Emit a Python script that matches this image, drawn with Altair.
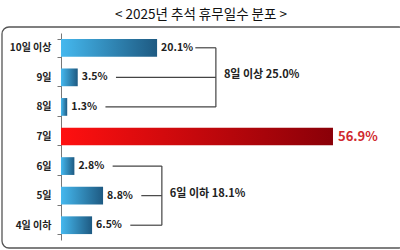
import altair as alt
import pandas as pd

categories = ["10일 이상", "9일", "8일", "7일", "6일", "5일", "4일 이하"]
values = [20.1, 3.5, 1.3, 56.9, 2.8, 8.8, 6.5]
value_labels = ["20.1%", "3.5%", "1.3%", "56.9%", "2.8%", "8.8%", "6.5%"]
highlight = [False, False, False, True, False, False, False]

group_names = ["8일 이상 25.0%", "6일 이하 18.1%"]
group_members = [["10일 이상", "9일", "8일"], ["6일", "5일", "4일 이하"]]

title_text = "< 2025년 추석 휴무일수 분포 >"

FONT = "Noto Sans CJK KR"
LABEL_GAP = 8.0      # data units from bar end to start of connector line
BRACKET_GAP = 12.3   # data units from largest bar in group to bracket

df = pd.DataFrame({"category": categories, "value": values,
                   "label": value_labels, "hl": highlight})
df["line_start"] = df["value"] + LABEL_GAP

grp_rows, conn_rows = [], []
for name, members in zip(group_names, group_members):
    mx = max(df.set_index("category").loc[m, "value"] for m in members)
    bx = mx + BRACKET_GAP
    grp_rows.append({"name": name, "top": members[0], "bottom": members[-1],
                     "mid": members[len(members) // 2], "bx": bx})
    for m in members:
        conn_rows.append({"category": m,
                          "start": df.set_index("category").loc[m, "line_start"],
                          "bx": bx})
grp = pd.DataFrame(grp_rows)
conn = pd.DataFrame(conn_rows)

xscale = alt.Scale(domain=[0, 70.5], nice=False, zero=True)
yscale = alt.Scale(domain=categories, paddingInner=0.4, paddingOuter=0.2)
yaxis = alt.Axis(title=None, tickBand="extent", tickSize=4,
                 tickColor="#777", domainColor="#777",
                 labelFont=FONT, labelFontWeight="bold",
                 labelFontSize=10, labelColor="#222", labelPadding=6)

blue = alt.Gradient(gradient="linear", x1=0, x2=1, y1=0, y2=0,
                    stops=[alt.GradientStop(color="#45b8ee", offset=0),
                           alt.GradientStop(color="#1e5a82", offset=1)])
red = alt.Gradient(gradient="linear", x1=0, x2=1, y1=0, y2=0,
                   stops=[alt.GradientStop(color="#ff1010", offset=0),
                          alt.GradientStop(color="#8a0008", offset=1)])


def Y(field):
    return alt.Y(field + ":N", scale=yscale, sort=categories, axis=yaxis)


def X(field):
    return alt.X(field + ":Q", scale=xscale, axis=None)


base = alt.Chart(df)

frame = alt.Chart(pd.DataFrame({"a": [0]})).mark_rect(
    fill=None, stroke="#555", strokeWidth=1.3, cornerRadius=7
).encode(x=alt.value(-59), x2=alt.value(345), y=alt.value(-6), y2=alt.value(215))

title = alt.Chart(pd.DataFrame({"a": [0]})).mark_text(
    text=title_text, font=FONT, fontSize=13.5, color="#111", align="center",
    baseline="middle"
).encode(x=alt.value(140), y=alt.value(-18))

bars_blue = base.transform_filter("!datum.hl").mark_bar(color=blue).encode(
    x=X("value"), y=Y("category"))
bars_red = base.transform_filter("datum.hl").mark_bar(color=red).encode(
    x=X("value"), y=Y("category"))

labels_blue = base.transform_filter("!datum.hl").mark_text(
    align="left", baseline="middle", dx=4, font=FONT, fontWeight="bold",
    fontSize=10.5, color="#222").encode(
    x=X("value"), y=Y("category"), text="label:N")
labels_red = base.transform_filter("datum.hl").mark_text(
    align="left", baseline="middle", dx=5, font=FONT, fontWeight="bold",
    fontSize=13, color="#d0282e").encode(
    x=X("value"), y=Y("category"), text="label:N")

connectors = alt.Chart(conn).mark_rule(color="#444", strokeWidth=1.2).encode(
    x=X("start"), x2="bx:Q", y=Y("category"))

brackets = alt.Chart(grp).mark_rule(color="#444", strokeWidth=1.2).encode(
    x=X("bx"), y=Y("top"), y2="bottom:N")

group_text = alt.Chart(grp).mark_text(
    align="left", baseline="middle", dx=8, dy=-2, font=FONT, fontWeight="bold",
    fontSize=11, color="#222").encode(
    x=X("bx"), y=Y("mid"), text="name:N")

chart = alt.layer(bars_blue, frame, title, connectors, brackets, bars_red,
                  labels_blue, labels_red, group_text).properties(
    width=337, height=207, autosize="none",
    padding={"left": 61, "top": 33, "right": 2, "bottom": 10},
    background="white"
).configure_view(stroke=None)

chart.save("out.html", embed_options={"renderer": "svg", "actions": False})
